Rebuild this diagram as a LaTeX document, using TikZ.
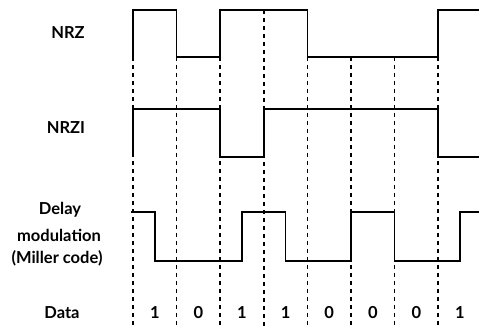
\documentclass[tikz,border=0pt]{standalone}
\usepackage{fontspec}
\setmainfont{Lato}
\begin{document}
\begin{tikzpicture}[x=1pt,y=-1pt,
    wave/.style={line width=1.7pt,line join=miter},
    grid/.style={line width=1.5pt,dash pattern=on 4pt off 4pt},
    lab/.style={font=\fontsize{16.5}{19}\selectfont\bfseries,align=center,inner sep=0pt}]
    \useasboundingbox (0,0) rectangle (479,328);
    % bit boundaries
    \foreach \i in {0,1,2,4,5,6,7}
{
    \draw[grid] (133+43.6*\i,57)--(133+43.6*\i,328);
}
    \draw[grid] (263.8,10)--(263.8,328);
    % labels
    \node[lab] (nrz) at (68,33) {NRZ};
    \node[lab] (nrzi) at (66,128) {NRZI};
    \node[lab] (delay) at (60,210) {Delay};
    \node[lab] (modul) at (59,235) {modulation};
    \node[lab] (miller) at (57,258) {(Miller code)};
    \node[lab] (data) at (62,313) {Data};
    \foreach \b [count=\k from 0] in {1,0,1,1,0,0,0,1}
{
    \node[lab] (d\k) at (154.8+43.6*\k,313) {\b};
}
    % NRZ
    \draw[wave] (133,57)--(133,10)--(176.6,10)--(176.6,57)--(220.2,57)--(220.2,10)--(307.4,10)--(307.4,57)--(438.2,57)--(438.2,10)--(479,10);
    % NRZI
    \draw[wave] (133,157)--(133,109)--(220.2,109)--(220.2,157)--(263.8,157)--(263.8,109)--(438.2,109)--(438.2,157)--(479,157);
    % Miller
    \draw[wave] (131,212)--(154.8,212)--(154.8,261)--(242,261)--(242,212)--(285.6,212)--(285.6,261)--(351,261)--(351,212)--(394.6,212)--(394.6,261)--(460,261)--(460,212)--(479,212);
\end{tikzpicture}
\end{document}
